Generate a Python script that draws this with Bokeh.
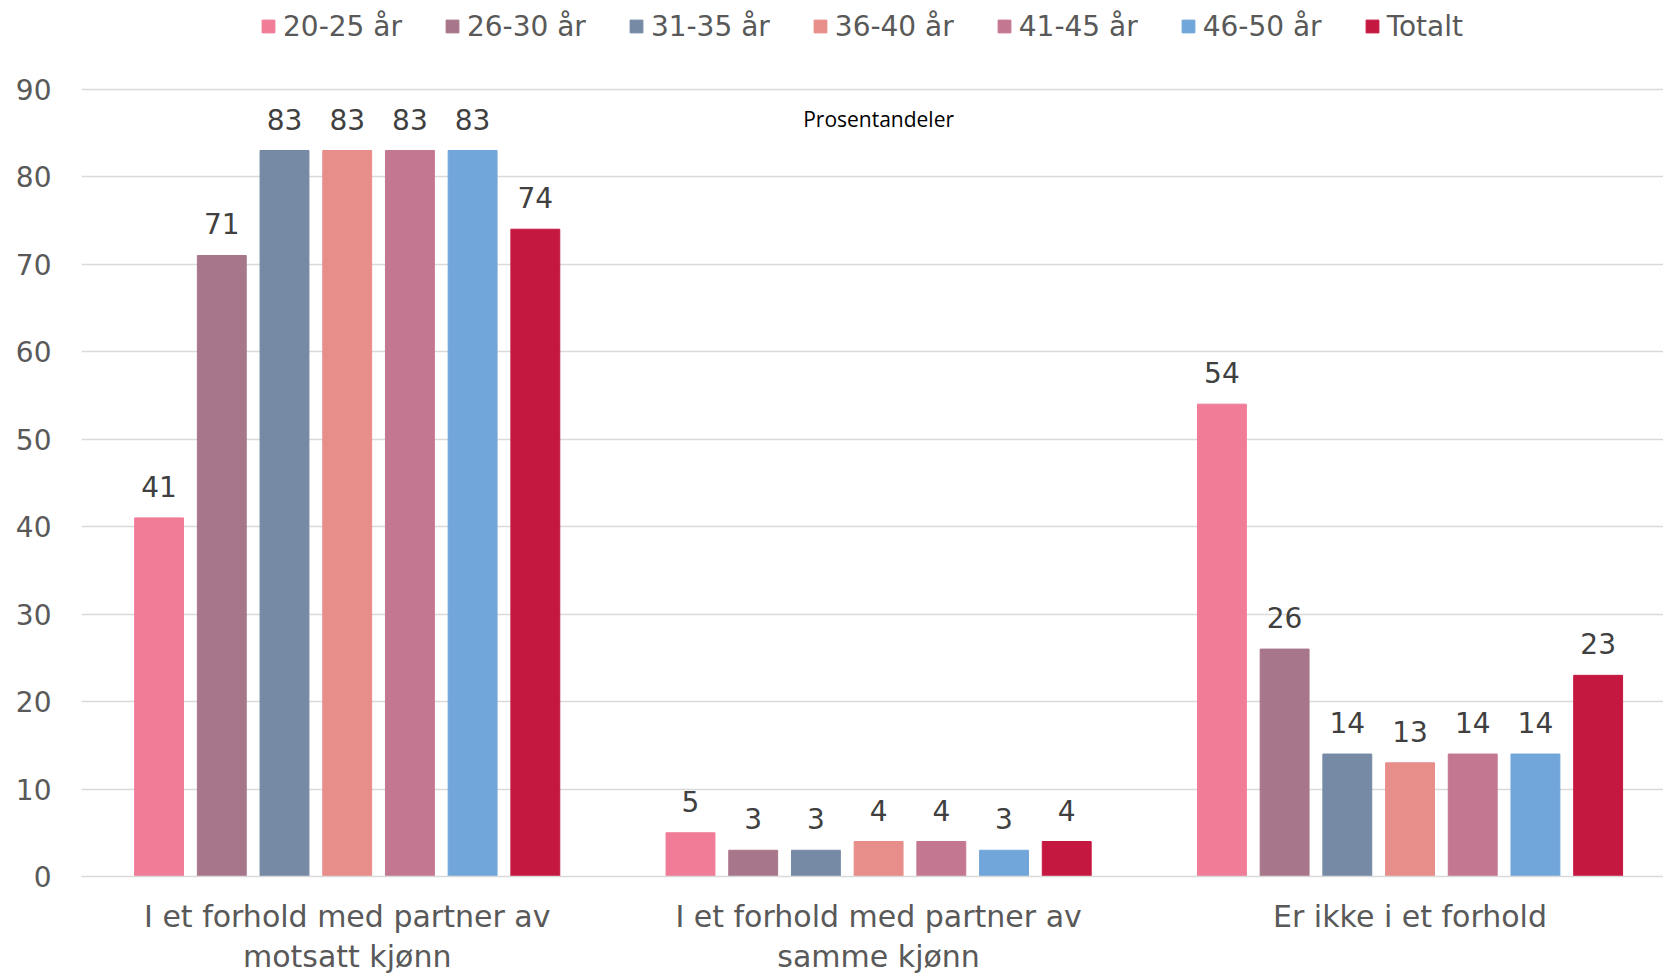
from bokeh.plotting import figure
from bokeh.models import (ColumnDataSource, Range1d, FixedTicker, Legend, LegendItem, Label, LinearAxis)
from bokeh.embed import file_html
from bokeh.resources import INLINE

categories = ["I et forhold med partner av\nmotsatt kjønn",
              "I et forhold med partner av\nsamme kjønn",
              "Er ikke i et forhold"]
series_names = ["20-25 år", "26-30 år", "31-35 år", "36-40 år", "41-45 år", "46-50 år", "Totalt"]
v_20_25 = [41, 5, 54]
v_26_30 = [71, 3, 26]
v_31_35 = [83, 3, 14]
v_36_40 = [83, 4, 13]
v_41_45 = [83, 4, 14]
v_46_50 = [83, 3, 14]
v_totalt = [74, 4, 23]
series_values = [v_20_25, v_26_30, v_31_35, v_36_40, v_41_45, v_46_50, v_totalt]
colors = ["#F07C98", "#A8768A", "#768AA5", "#E88E8A", "#C47790", "#71A6DA", "#C51840"]
y_ticks = [0, 10, 20, 30, 40, 50, 60, 70, 80, 90]
title_text = "Prosentandeler"

FONT = "DejaVu Sans"
W, H = 1663, 976
p = figure(width=W, height=H, output_backend="svg", toolbar_location=None,
           x_range=Range1d(0, 2.977), y_range=Range1d(0, 100.15),
           min_border_left=81, min_border_right=0, min_border_top=0, min_border_bottom=99)
p.outline_line_color = None
p.background_fill_color = "white"

p.xgrid.grid_line_color = None
p.ygrid.grid_line_color = "#D9D9D9"
p.ygrid.grid_line_width = 1.5
p.yaxis.ticker = FixedTicker(ticks=y_ticks)
p.yaxis.axis_line_color = None
p.yaxis.major_tick_line_color = None
p.yaxis.minor_tick_line_color = None
p.yaxis.major_label_text_font = FONT
p.yaxis.major_label_text_font_size = "28px"
p.yaxis.major_label_text_color = "#595959"
p.yaxis.major_label_standoff = 24

# category labels: first line on the main x axis, second line on an extra axis below it
cat_pos = [i + 0.5 for i in range(len(categories))]
lines = [c.split("\n") for c in categories]
p.xaxis.ticker = FixedTicker(ticks=cat_pos)
p.xaxis.major_label_overrides = {pos: ln[0] for pos, ln in zip(cat_pos, lines)}
p.xaxis.axis_line_color = "#D9D9D9"
p.xaxis.axis_line_width = 1.5
p.xaxis.major_tick_line_color = None
p.xaxis.minor_tick_line_color = None
p.xaxis.major_label_text_font = FONT
p.xaxis.major_label_text_font_size = "30px"
p.xaxis.major_label_text_color = "#595959"
p.xaxis.major_label_standoff = 16

second = [(pos, ln[1]) for pos, ln in zip(cat_pos, lines) if len(ln) > 1]
ax2 = LinearAxis(ticker=FixedTicker(ticks=[s[0] for s in second]),
                 major_label_overrides={s[0]: s[1] for s in second},
                 axis_line_color=None, major_tick_line_color=None, minor_tick_line_color=None,
                 major_label_text_font=FONT, major_label_text_font_size="30px",
                 major_label_text_color="#595959", major_label_standoff=-4)
p.add_layout(ax2, "below")

bar_w = 0.092
pitch = 0.118
items = []
for k, (name, vals, col) in enumerate(zip(series_names, series_values, colors)):
    xs = [i + 0.5 + (k - 3) * pitch for i in range(len(vals))]
    src = ColumnDataSource(dict(x=xs, top=vals, lbl=[str(v) for v in vals]))
    r = p.vbar(x="x", top="top", width=bar_w, source=src, fill_color=col, line_color=col)
    p.text(x="x", y="top", text="lbl", source=src, text_align="center", text_baseline="bottom",
           y_offset=-21, text_font={"value": FONT}, text_font_size="28px", text_color="#404040")
    items.append(LegendItem(label=name, renderers=[r]))

legend = Legend(items=items, orientation="horizontal", location=(179, 877 - 44),
                glyph_width=16, glyph_height=16, label_height=34, label_standoff=7,
                spacing=42, padding=0, margin=0, border_line_color=None,
                background_fill_alpha=0,
                label_text_font=FONT, label_text_font_size="28px", label_text_color="#595959")
p.add_layout(legend)

p.add_layout(Label(x=1.5, y=86.6, text=title_text, text_align="center", text_baseline="middle",
                   text_font="Open Sans", text_font_size="21px", text_color="#000000"))

open("out.html", "w").write(file_html(p, INLINE))
